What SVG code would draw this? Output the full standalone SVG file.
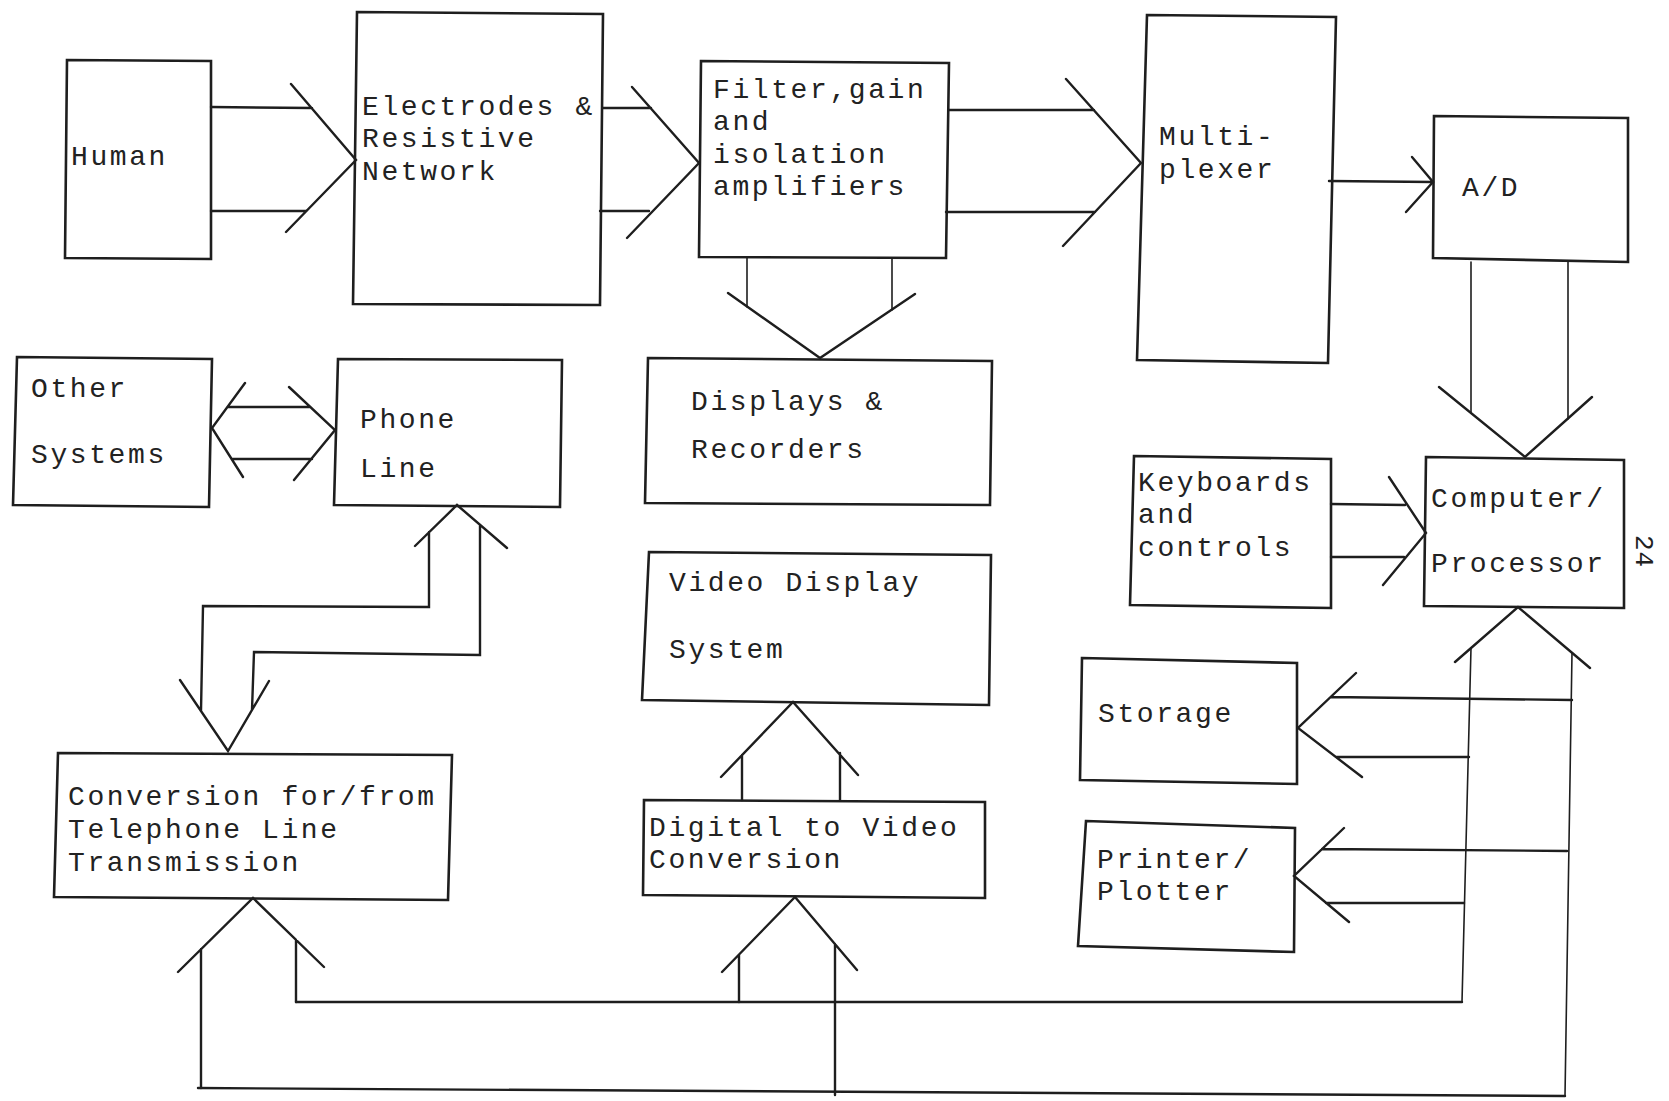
<svg xmlns="http://www.w3.org/2000/svg" width="1669" height="1101" viewBox="0 0 1669 1101">
<style>
.box{fill:none;stroke:#1e1e1e;stroke-width:2.6;stroke-linejoin:miter}
.ln{fill:none;stroke:#1e1e1e;stroke-width:2.4;stroke-linejoin:miter;stroke-linecap:round}
.th{stroke-width:1.6}
.t{font-family:"Liberation Mono","DejaVu Sans Mono",monospace;font-size:28px;letter-spacing:2.6px;fill:#222}
</style>
<rect width="1669" height="1101" fill="#fff"/>
<g id="human"><polygon class="box" points="67,60 211,61 211,259 65,258"/><text class="t" x="71" y="165">Human</text></g>
<g id="electrodes"><polygon class="box" points="357,12 603,14 600,305 353,304"/><text class="t" x="362" y="115">Electrodes &amp;</text><text class="t" x="362" y="147">Resistive</text><text class="t" x="362" y="180">Network</text></g>
<g id="filter"><polygon class="box" points="701,61 949,63 946,258 699,257"/><text class="t" x="713" y="98">Filter,gain</text><text class="t" x="713" y="130">and</text><text class="t" x="713" y="163">isolation</text><text class="t" x="713" y="195">amplifiers</text></g>
<g id="multiplexer"><polygon class="box" points="1147,15 1336,17 1328,363 1137,360"/><text class="t" x="1159" y="145">Multi-</text><text class="t" x="1159" y="178">plexer</text></g>
<g id="ad"><polygon class="box" points="1434,116 1628,118 1628,262 1433,258"/><text class="t" x="1462" y="196">A/D</text></g>
<g id="other"><polygon class="box" points="17,357 212,359 209,507 13,505"/><text class="t" x="31" y="397">Other</text><text class="t" x="31" y="463">Systems</text></g>
<g id="phone"><polygon class="box" points="338,359 562,360 560,507 334,505"/><text class="t" x="360" y="428">Phone</text><text class="t" x="360" y="477">Line</text></g>
<g id="displays"><polygon class="box" points="648,358 992,361 990,505 645,503"/><text class="t" x="691" y="410">Displays &amp;</text><text class="t" x="691" y="458">Recorders</text></g>
<g id="keyboards"><polygon class="box" points="1134,456 1331,459 1331,608 1130,605"/><text class="t" x="1138" y="491">Keyboards</text><text class="t" x="1138" y="523">and</text><text class="t" x="1138" y="556">controls</text></g>
<g id="computer"><polygon class="box" points="1426,457 1624,460 1624,608 1424,606"/><text class="t" x="1431" y="507">Computer/</text><text class="t" x="1431" y="572">Processor</text></g>
<g id="video"><polygon class="box" points="649,552 991,555 989,705 642,700"/><text class="t" x="669" y="591">Video Display</text><text class="t" x="669" y="658">System</text></g>
<g id="storage"><polygon class="box" points="1082,658 1297,663 1297,784 1080,780"/><text class="t" x="1098" y="722">Storage</text></g>
<g id="conversion"><polygon class="box" points="58,753 452,755 448,900 54,897"/><text class="t" x="68" y="805">Conversion for/from</text><text class="t" x="68" y="838">Telephone Line</text><text class="t" x="68" y="871">Transmission</text></g>
<g id="d2v"><polygon class="box" points="644,800 985,802 985,898 643,895"/><text class="t" x="649" y="836">Digital to Video</text><text class="t" x="649" y="868">Conversion</text></g>
<g id="printer"><polygon class="box" points="1086,821 1295,828 1294,952 1078,946"/><text class="t" x="1097" y="868">Printer/</text><text class="t" x="1097" y="900">Plotter</text></g>
<text class="t" style="font-size:26px;letter-spacing:1px" transform="translate(1636,535) rotate(90)">24</text>
<g id="connectors">
<path class="ln" d="M211,107 L312,108 M211,211 L306,211 M291,84 L356,160 L286,232"/>
<path class="ln" d="M603,108 L651,108 M600,211 L649,211 M632,87 L699,163 L627,238"/>
<path class="ln" d="M949,110 L1094,110 M946,212 L1095,212 M1066,79 L1141,163 L1063,246"/>
<path class="ln" d="M1329,181 L1433,182 M1412,157 L1433,182 L1406,212"/>
<path class="ln th" d="M747,258 L747,307 M892,258 L892,310"/>
<path class="ln" d="M728,293 L820,358 L915,294"/>
<path class="ln th" d="M1471,262 L1471,412 M1568,262 L1568,419"/>
<path class="ln" d="M1439,387 L1525,457 L1592,397"/>
<path class="ln" d="M1331,504 L1405,505 M1331,557 L1404,557 M1389,477 L1426,533 L1383,585"/>
<path class="ln" d="M228,407 L310,407 M232,459 L312,459 M245,383 L212,428 L243,477 M289,387 L335,430 L294,480"/>
<path class="ln" d="M415,546 L457,505 L507,548 M429,532 L429,607 L203,606 L201,711 M480,526 L480,655 L254,652 L252,710 M180,680 L228,751 L269,681"/>
<path class="ln" d="M178,972 L253,898 L324,967 M201,1088 L201,949 M296,1002 L296,940"/>
<path class="ln" d="M721,777 L793,702 L858,775 M742,800 L742,755 M840,800 L840,753"/>
<path class="ln" d="M722,972 L795,897 L857,970 M739,1002 L739,955 M835,1095 L835,944"/>
<path class="ln" d="M296,1002 L1462,1002 M198,1088 L1565,1096"/>
<path class="ln th" d="M1471,648 L1462,1002 M1572,653 L1565,1096"/>
<path class="ln" d="M1455,662 L1518,607 L1590,668"/>
<path class="ln" d="M1356,673 L1298,728 L1362,777 M1331,697 L1572,700 M1336,757 L1469,757"/>
<path class="ln" d="M1344,828 L1294,876 L1349,922 M1322,849 L1567,851 M1326,903 L1464,903"/>
</g>
</svg>
